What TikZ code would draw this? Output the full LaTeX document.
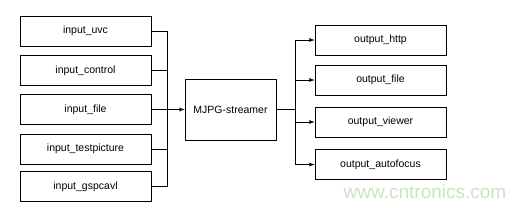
\documentclass[tikz,border=0pt]{standalone}
\usepackage{fontspec}
\setmainfont{Liberation Sans}
\definecolor{wmgreen}{RGB}{200,228,190}
\begin{document}
\begin{tikzpicture}[>=latex, x=1pt, y=-1pt,
  box/.style={draw, line width=0.8pt, minimum width=131pt, minimum height=30pt, inner sep=0pt, font=\fontsize{10.5}{12}\selectfont},
  every path/.style={line width=0.8pt}]
\useasboundingbox (0,0) rectangle (526,207);
\node[box] (in1) at (85.5,31) {input\_uvc};
\node[box] (in2) at (85.5,70.5) {input\_control};
\node[box] (in3) at (85.5,109.5) {input\_file};
\node[box] (in4) at (85.5,149) {input\_testpicture};
\node[box] (in5) at (85.5,186.5) {input\_gspcavl};

\node[box, minimum width=91pt, minimum height=61pt] (mjpg) at (230.5,109.5) {MJPG-streamer};

\node[box] (out1) at (380.5,40) {output\_http};
\node[box] (out2) at (380.5,80) {output\_file};
\node[box] (out3) at (380.5,122) {output\_viewer};
\node[box] (out4) at (380.5,164.5) {output\_autofocus};

\coordinate (lbus) at (167,109.5);
\coordinate (rbus) at (295,109.5);

\draw (in1.east) -| (lbus);
\draw (in2.east) -| (lbus);
\draw (in4.east) -| (lbus);
\draw (in5.east) -| (lbus);
\draw[->] (in3.east) -- (mjpg.west);

\draw (mjpg.east) -- (rbus);
\draw[->] (rbus) |- (out1.west);
\draw[->] (rbus) |- (out2.west);
\draw[->] (rbus) |- (out3.west);
\draw[->] (rbus) |- (out4.west);

\node[text=wmgreen, font=\fontsize{19}{22}\selectfont] (wm) at (425,192) {www.cntronics.com};
\end{tikzpicture}
\end{document}
